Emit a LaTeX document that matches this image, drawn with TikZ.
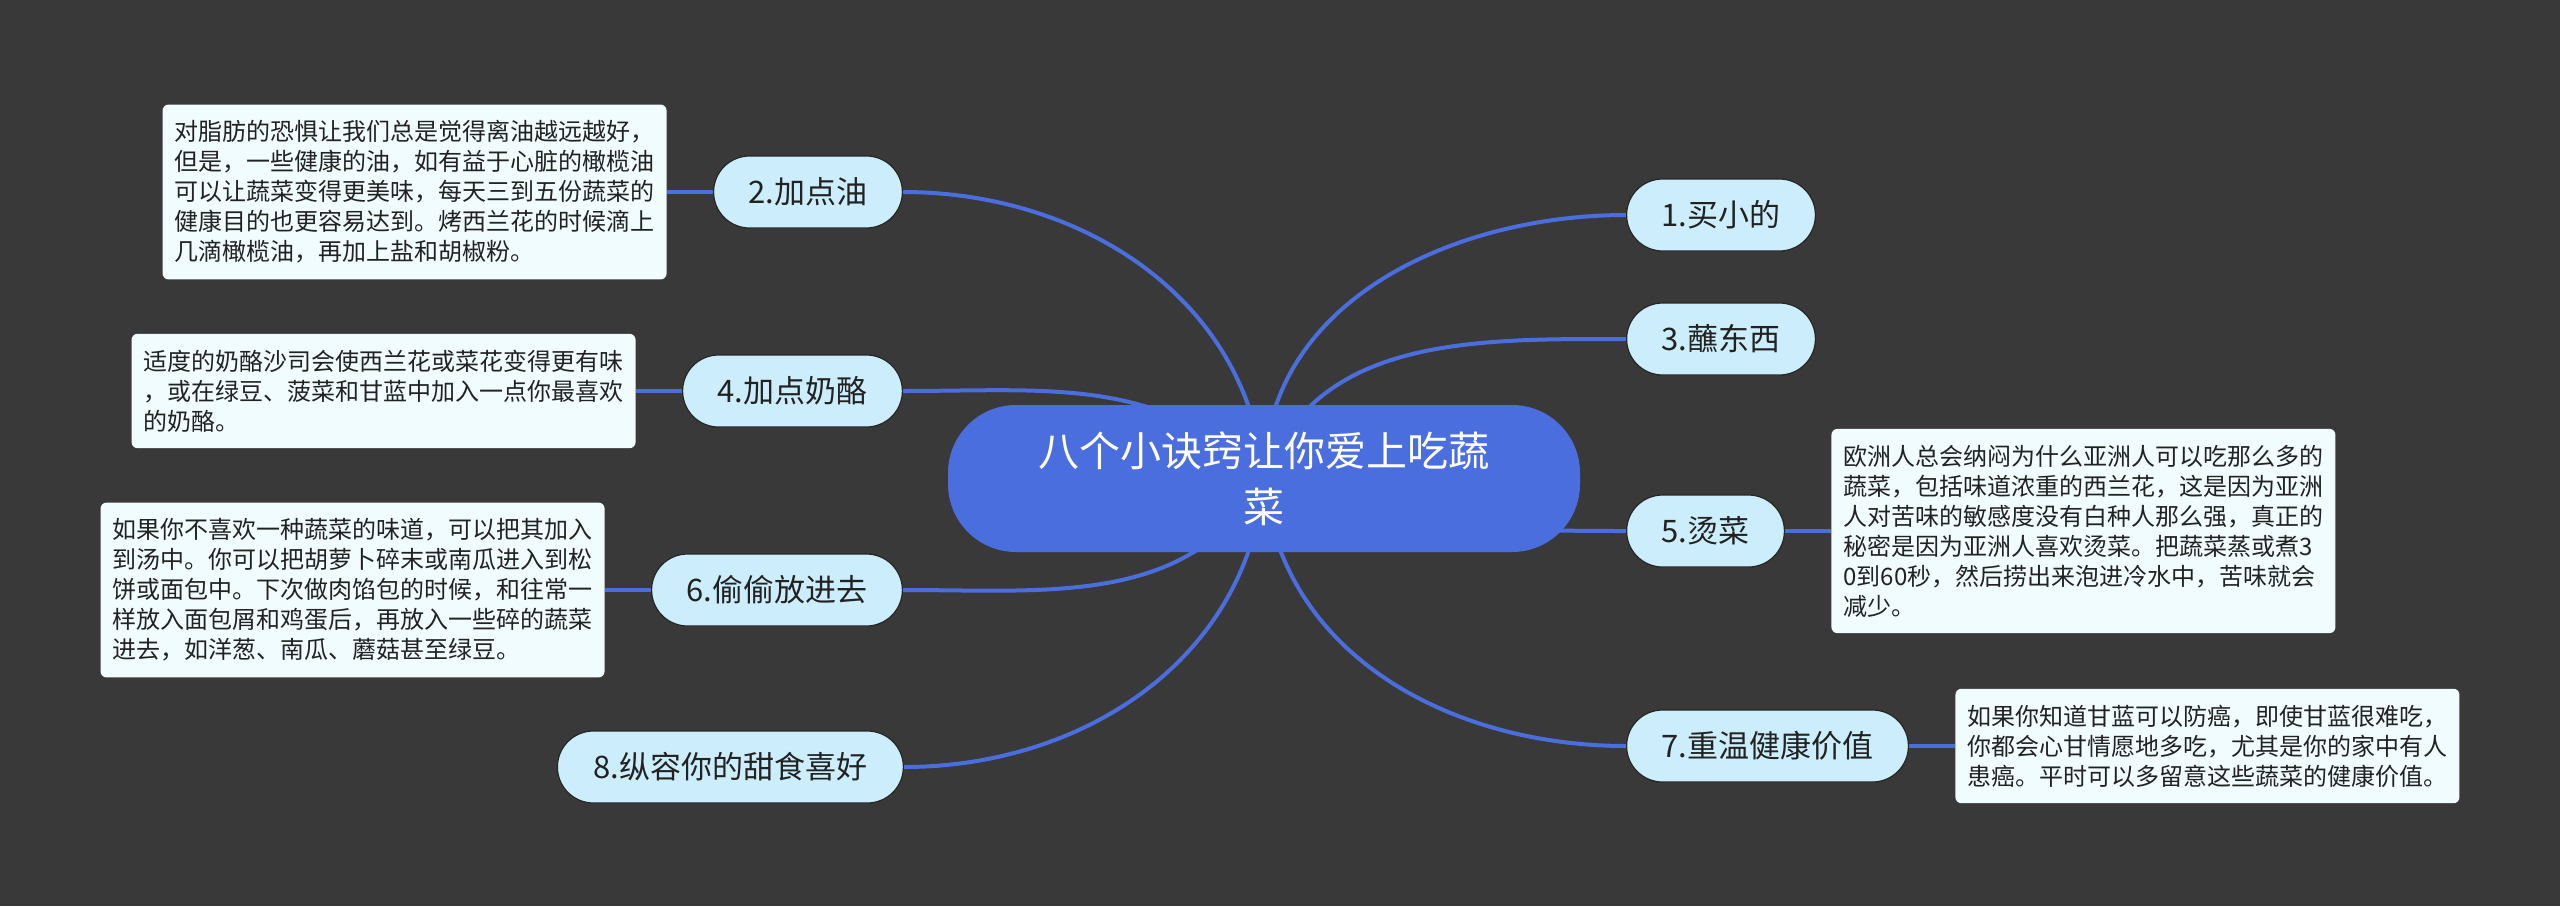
\documentclass[tikz,border=0pt]{standalone}
\usepackage{fontspec}
\newfontfamily\cjk{Noto Sans CJK SC}
\usetikzlibrary{positioning}
\definecolor{canvas}{HTML}{3A393A}
\definecolor{trunk}{HTML}{4B6EDE}
\definecolor{topicfill}{HTML}{CCEEFC}
\definecolor{notefill}{HTML}{F0FCFE}
\definecolor{ink}{HTML}{222222}
\pgfdeclarelayer{back}
\pgfdeclarelayer{wires}
\pgfsetlayers{back,wires,main}

\begin{document}
\begin{tikzpicture}[x=0.5pt,y=-0.5pt,node distance=23pt,
  hub/.style={fill=trunk,text=white,rounded corners=34pt,minimum width=316pt,minimum height=73.5pt,align=center,font=\cjk\fontsize{20.5}{28}\selectfont},
  topic/.style={fill=topicfill,draw=black!85,line width=0.6pt,rounded corners=18pt,minimum height=36pt,inner xsep=17.5pt,inner ysep=0pt,text=ink,font=\cjk\fontsize{15.5}{18}\selectfont},
  note/.style={fill=notefill,rounded corners=3pt,align=left,inner xsep=6pt,inner ysep=8pt,text=ink,font=\cjk\fontsize{12}{15}\selectfont},
  wire/.style={trunk,line width=2pt}]
\useasboundingbox (0,0) rectangle (2560,906);
\begin{pgfonlayer}{back}
\fill[canvas] (0,0) rectangle (2560,906);
\end{pgfonlayer}
\node[hub] (hub) at (1264,478.5) {八个小诀窍让你爱上吃蔬\\菜};
\node[topic,anchor=west] (t1) at (1626,215) {1.买小的};
\node[topic,anchor=west] (t3) at (1626,339) {3.蘸东西};
\node[topic,anchor=west] (t5) at (1626,531) {5.烫菜};
\node[topic,anchor=west] (t7) at (1626,746) {7.重温健康价值};
\node[topic,anchor=east] (t2) at (903,192) {2.加点油};
\node[topic,anchor=east] (t4) at (903,391) {4.加点奶酪};
\node[topic,anchor=east] (t6) at (903,590) {6.偷偷放进去};
\node[topic,anchor=east,minimum width=173pt] (t8) at (904,767) {8.纵容你的甜食喜好};
\node[note,left=of t2] (n2) {对脂肪的恐惧让我们总是觉得离油越远越好，\\但是，一些健康的油，如有益于心脏的橄榄油\\可以让蔬菜变得更美味，每天三到五份蔬菜的\\健康目的也更容易达到。烤西兰花的时候滴上\\几滴橄榄油，再加上盐和胡椒粉。};
\node[note,left=of t4] (n4) {适度的奶酪沙司会使西兰花或菜花变得更有味\\，或在绿豆、菠菜和甘蓝中加入一点你最喜欢\\的奶酪。};
\node[note,left=of t6] (n6) {如果你不喜欢一种蔬菜的味道，可以把其加入\\到汤中。你可以把胡萝卜碎末或南瓜进入到松\\饼或面包中。下次做肉馅包的时候，和往常一\\样放入面包屑和鸡蛋后，再放入一些碎的蔬菜\\进去，如洋葱、南瓜、蘑菇甚至绿豆。};
\node[note,right=of t5] (n5) {欧洲人总会纳闷为什么亚洲人可以吃那么多的\\蔬菜，包括味道浓重的西兰花，这是因为亚洲\\人对苦味的敏感度没有白种人那么强，真正的\\秘密是因为亚洲人喜欢烫菜。把蔬菜蒸或煮3\\0到60秒，然后捞出来泡进冷水中，苦味就会\\减少。};
\node[note,right=of t7] (n7) {如果你知道甘蓝可以防癌，即使甘蓝很难吃，\\你都会心甘情愿地多吃，尤其是你的家中有人\\患癌。平时可以多留意这些蔬菜的健康价值。};
\begin{pgfonlayer}{wires}
\draw[wire] (hub.center) to[out=90,in=180] (t1.west);
\draw[wire] (hub.center) to[out=70,in=180] (t3.west);
\draw[wire] (hub.center) to[out=-20,in=180] (t5.west);
\draw[wire] (hub.center) to[out=-85,in=180] (t7.west);
\draw[wire] (hub.center) to[out=95,in=0] (t2.east);
\draw[wire] (hub.center) to[out=135,in=0] (t4.east);
\draw[wire] (hub.center) to[out=-120,in=0] (t6.east);
\draw[wire] (hub.center) to[out=-95,in=0] (t8.east);
\draw[wire] (t2) -- (n2);
\draw[wire] (t4) -- (n4);
\draw[wire] (t6) -- (n6);
\draw[wire] (t5) -- (n5);
\draw[wire] (t7) -- (n7);
\end{pgfonlayer}
\end{tikzpicture}
\end{document}
